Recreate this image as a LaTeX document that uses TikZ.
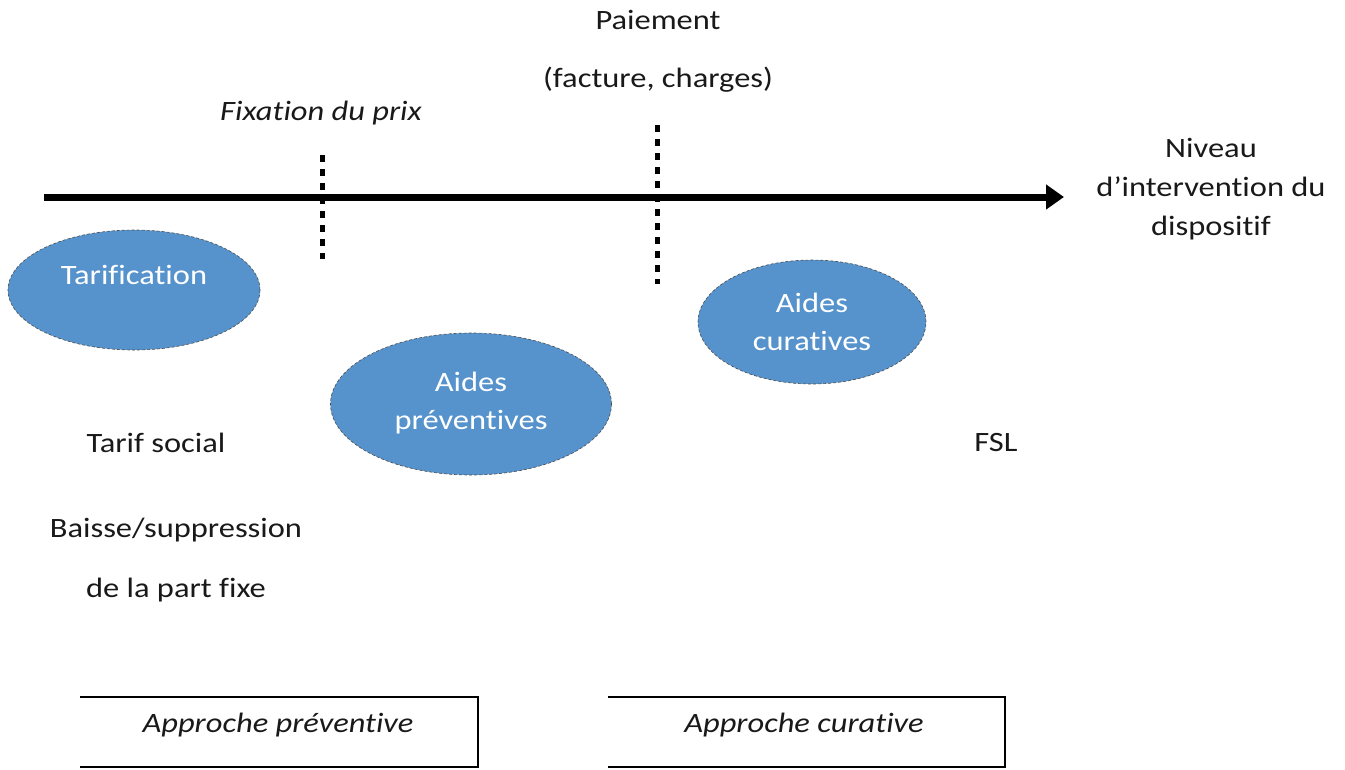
\documentclass[tikz,border=0pt]{standalone}
\usepackage{fontspec}
\setmainfont{Carlito}[FakeStretch=1.16, Ligatures=NoCommon]
\usetikzlibrary{shapes.geometric,arrows.meta}
\definecolor{ellblue}{RGB}{86,147,204}
\definecolor{txt}{RGB}{25,25,25}
\tikzset{
  px/.style={x=1pt,y=-1pt},
  lbl/.style={font=\fontsize{28}{30}\selectfont, text=txt, inner sep=0pt, align=center},
  ilbl/.style={lbl, font=\fontsize{28}{30}\selectfont\itshape},
  ell/.style={ellipse, fill=ellblue, draw=black!70, densely dashed, line width=0.6pt, inner sep=0pt},
  elltxt/.style={font=\fontsize{28}{38}\selectfont, text=white, align=center, inner sep=0pt},
  marker/.style={line width=5pt, dash pattern=on 7pt off 7pt},
  axis/.style={line width=7pt, -{Triangle[length=18pt,width=24pt]}},
  boxline/.style={line width=1.2pt}
}
\begin{document}
\begin{tikzpicture}[px]
\useasboundingbox (0,0) rectangle (1345,769);
% axis
\coordinate (axs) at (44,197);
\coordinate (axe) at (1064,197);
\draw[axis] (axs) -- (axe);
% markers
\coordinate (m1t) at (322,155);
\coordinate (m1b) at (322,259);
\coordinate (m2t) at (657,125);
\coordinate (m2b) at (657,284);
\draw[marker] (m1t) -- (m1b);
\draw[marker] (m2t) -- (m2b);
% top labels
\node[lbl] (pai) at (658,20) {Paiement};
\node[lbl] (fac) at (658,80) {(facture, charges)};
\node[ilbl] (fix) at (321,113) {Fixation du prix};
\node[lbl, font=\fontsize{28}{39}\selectfont] (niv) at (1211,189) {Niveau\\d’intervention du\\dispositif};
% ellipses
\node[ell, minimum width=252pt, minimum height=120pt] (tar) at (134,290) {};
\node[elltxt] (tart) at (134,275) {Tarification};
\node[ell, minimum width=281pt, minimum height=142pt] (prev) at (471,404) {};
\node[elltxt] (prevt) at (471,403) {Aides\\préventives};
\node[ell, minimum width=228pt, minimum height=124pt] (cur) at (812,322) {};
\node[elltxt] (curt) at (812,322) {Aides\\curatives};
% lower labels
\node[lbl] (ts) at (156,443) {Tarif social};
\node[lbl] (bs) at (176,530) {Baisse/suppression};
\node[lbl] (pf) at (176,590) {de la part fixe};
\node[lbl] (fsl) at (996,443) {FSL};
% boxes
\coordinate (b1a) at (80,697);
\coordinate (b1b) at (478,697);
\coordinate (b1c) at (478,767);
\coordinate (b1d) at (80,767);
\draw[boxline] (b1a) -- (b1b) -- (b1c) -- (b1d);
\node[ilbl] (ap) at (278,725) {Approche préventive};
\coordinate (b2a) at (608,697);
\coordinate (b2b) at (1005,697);
\coordinate (b2c) at (1005,767);
\coordinate (b2d) at (608,767);
\draw[boxline] (b2a) -- (b2b) -- (b2c) -- (b2d);
\node[ilbl] (ac) at (804,725) {Approche curative};
\end{tikzpicture}
\end{document}
